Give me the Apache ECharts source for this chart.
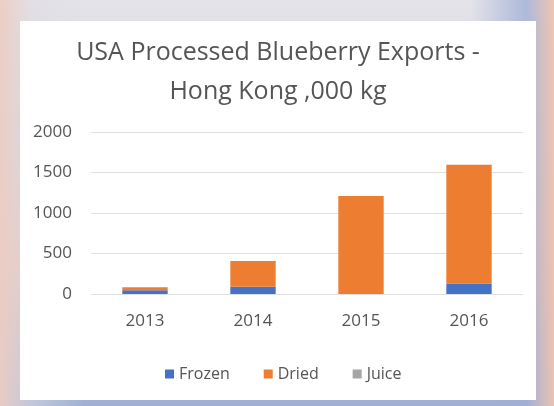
<!DOCTYPE html>
<html>
<head>
<meta charset="utf-8">
<script src="https://cdn.jsdelivr.net/npm/echarts@6/dist/echarts.min.js"></script>
<style>
html,body{margin:0;padding:0;width:554px;height:406px;overflow:hidden;}
body{
  background:
    linear-gradient(90deg, rgba(236,205,195,0.95) 0%, rgba(225,220,228,0.5) 6%, rgba(0,0,0,0) 15%, rgba(0,0,0,0) 85%, rgba(160,175,215,0.8) 95%, rgba(238,195,175,0.95) 100%),
    linear-gradient(180deg, #e3e3e8 0%, #d3d8e6 35%, #dcc6c2 65%, #9fb0d6 100%);
}
#chart{position:absolute;left:20px;top:21px;width:516px;height:379px;background:#ffffff;}
</style>
</head>
<body>
<div id="chart"></div>
<script>
var categories = ['2013', '2014', '2015', '2016'];
var frozen = [45, 90, 0, 130];
var dried = [38, 317, 1210, 1465];
var juice = [0, 0, 0, 0];
var yTicks = [0, 500, 1000, 1500, 2000];

var chart = echarts.init(document.getElementById('chart'), null, {renderer: 'canvas'});
var font = '"Open Sans", "Noto Sans", sans-serif';
var txt = '#555555';
chart.setOption({
  animation: false,
  backgroundColor: '#ffffff',
  title: {
    text: 'USA Processed Blueberry Exports -\nHong Kong ,000 kg',
    left: 'center',
    top: 7,
    textStyle: {fontFamily: font, fontSize: 25, fontWeight: 'normal', color: txt, lineHeight: 39}
  },
  legend: {
    top: 340,
    left: 140,
    itemWidth: 9,
    itemHeight: 9,
    itemGap: 34,
    icon: 'rect',
    textStyle: {fontFamily: font, fontSize: 16, color: txt},
    data: ['Frozen', 'Dried', 'Juice']
  },
  grid: {left: 71, right: 13, top: 111, bottom: 106, containLabel: false},
  xAxis: {
    type: 'category',
    data: categories,
    axisLine: {show: false},
    axisTick: {show: false},
    axisLabel: {fontFamily: font, fontSize: 17, color: txt, margin: 19}
  },
  yAxis: {
    type: 'value',
    min: yTicks[0],
    max: yTicks[yTicks.length - 1],
    interval: 500,
    axisLine: {show: false},
    axisTick: {show: false},
    axisLabel: {fontFamily: font, fontSize: 17, color: txt, margin: 19, formatter: function (v) { return String(v); }},
    splitLine: {lineStyle: {color: '#e0e0e0', width: 1}}
  },
  series: [
    {name: 'Frozen', type: 'bar', stack: 't', data: frozen, barWidth: '42%', itemStyle: {color: '#4472c4'}},
    {name: 'Dried', type: 'bar', stack: 't', data: dried, barWidth: '42%', itemStyle: {color: '#ed7d31'}},
    {name: 'Juice', type: 'bar', stack: 't', data: juice, barWidth: '42%', itemStyle: {color: '#a5a5a5'}}
  ]
});
</script>
</body>
</html>
